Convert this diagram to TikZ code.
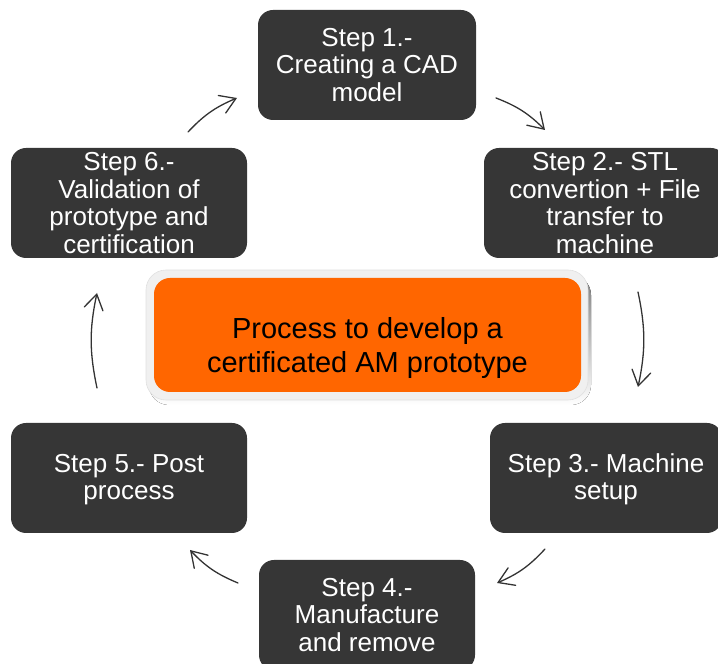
\documentclass[tikz,border=0pt]{standalone}
\usepackage{fontspec}
\setmainfont{Liberation Sans}
\usetikzlibrary{arrows.meta}
\definecolor{boxdark}{HTML}{363636}
\definecolor{ctr}{HTML}{FF6600}
\definecolor{shade}{HTML}{C49A84}
\definecolor{rim}{HTML}{F0F0F0}
\definecolor{arr}{HTML}{333333}
\begin{document}
\begin{tikzpicture}[x=1pt,y=1pt,
  stepbox/.style={fill=boxdark, rounded corners=15pt, text=white, align=center,
    inner sep=0pt, minimum height=110pt, font=\fontsize{26}{27.5}\selectfont},
  flow/.style={draw=arr, line width=1.3pt, line cap=round,
    -{Straight Barb[length=15pt,width=19pt,line cap=round]}, bend left=12}]
\useasboundingbox (0,0) rectangle (718,664);
% steps
\node[stepbox, minimum width=218pt] (s1) at (367,599) {Step 1.-\\Creating a CAD\\model};
\node[stepbox, minimum width=242pt] (s2) at (605,461) {Step 2.- STL\\convertion + File\\transfer to\\machine};
\node[stepbox, minimum width=232pt, text height=49pt] (s3) at (606,186) {Step 3.- Machine\\setup};
\node[stepbox, minimum width=216pt] (s4) at (367,49) {Step 4.-\\Manufacture\\and remove};
\node[stepbox, minimum width=236pt, text height=49pt] (s5) at (129,186) {Step 5.- Post\\process};
\node[stepbox, minimum width=236pt] (s6) at (129,461) {Step 6.-\\Validation of\\prototype and\\certification};
% centre
\fill[shade, rounded corners=20pt] (149,259) rectangle (591,389);
\node[fill=rim, draw=black!12, line width=0.6pt, rounded corners=20pt, minimum width=442pt, minimum height=130pt, inner sep=0pt] (rimbox) at (367,329) {};
\node[fill=ctr, rounded corners=16pt, minimum width=427pt, minimum height=114pt, inner sep=0pt,
  align=center, font=\fontsize{29}{34}\selectfont, text height=81pt] (centre) at (367.5,329) {Process to develop a\\certificated AM prototype};
% arrow end points
\coordinate (a1s) at (188,532); \coordinate (a1e) at (237,566);
\coordinate (a2s) at (496,566); \coordinate (a2e) at (545,534);
\coordinate (a3s) at (638,372); \coordinate (a3e) at (638,277);
\coordinate (a4s) at (545,115); \coordinate (a4e) at (497,81);
\coordinate (a5s) at (238,81);  \coordinate (a5e) at (190,114);
\coordinate (a6s) at (97,276);  \coordinate (a6e) at (97,371);
\draw[flow] (a1s) to (a1e);
\draw[flow] (a2s) to (a2e);
\draw[flow] (a3s) to (a3e);
\draw[flow] (a4s) to (a4e);
\draw[flow] (a5s) to (a5e);
\draw[flow] (a6s) to (a6e);
\end{tikzpicture}
\end{document}
